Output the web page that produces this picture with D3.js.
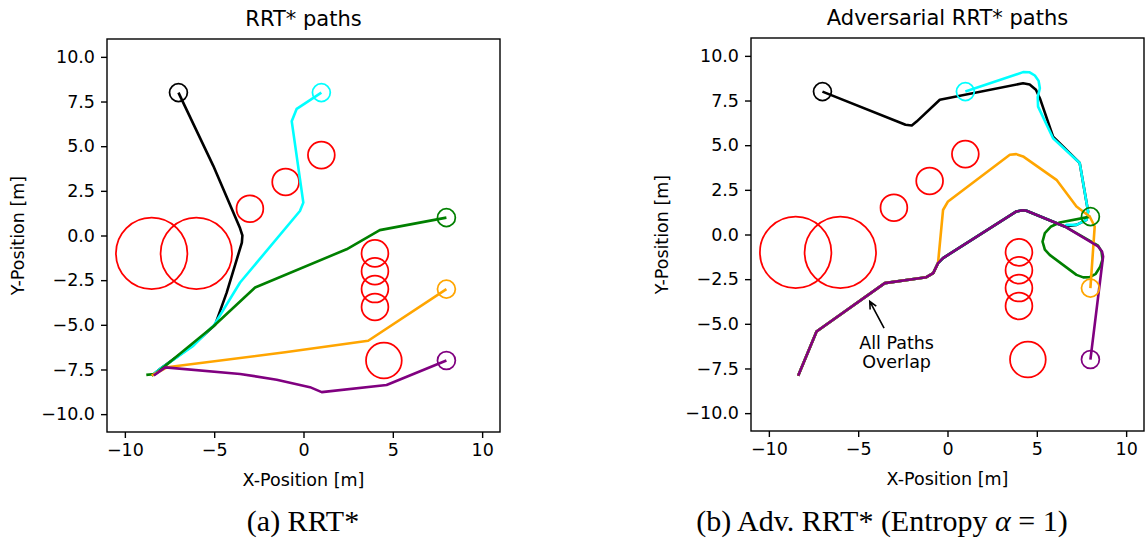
<!DOCTYPE html>
<html>
<head>
<meta charset="utf-8">
<script src="https://cdn.jsdelivr.net/npm/d3@7"></script>
<style>
  body { margin: 0; background: #fff; }
  text { font-family: "DejaVu Sans", sans-serif; }
  text.caption { font-family: "Liberation Serif", "Times New Roman", serif; }
</style>
</head>
<body>
<svg id="chart" width="1147" height="539"></svg>
<script>
"use strict";

// obstacles: [x, y, radius]
var obstacles = [
  [-8.5, -1, 2], [-6, -1, 2],
  [-3, 1.5, 0.75], [-1, 3, 0.75], [1, 4.5, 0.75],
  [4, -1, 0.75], [4, -2, 0.75], [4, -3, 0.75], [4, -4, 0.75],
  [4.5, -7, 1]
];
var goals = [[-7, 8], [1, 8], [8, 1], [8, -3], [8, -7]];
var pathNames = ["black", "cyan", "green", "orange", "purple"];
var xTicks = [-10, -5, 0, 5, 10];
var yTicks = [-10, -7.5, -5, -2.5, 0, 2.5, 5, 7.5, 10];

// RRT* paths
var rrtBlack = [[-8.5, -7.85], [-8.0, -7.45], [-6.2, -6.15], [-4.95, -5.0], [-4.3, -3.2],
  [-3.45, -0.4], [-3.42, 0.0], [-3.55, 0.4], [-5.05, 3.9], [-7, 8]];
var rrtCyan = [[-8.5, -7.85], [-8.0, -7.45], [-6.2, -6.2], [-5.0, -5.0], [-3.55, -2.63],
  [-0.2, 1.37], [-0.01, 1.84], [-0.66, 6.4], [-0.38, 7.09], [1, 8]];
var rrtGreen = [[-8.8, -7.8], [-8.3, -7.75], [-5.04, -5.08], [-2.71, -2.91],
  [2.41, -0.77], [4.27, 0.3], [8, 1]];
var rrtOrange = [[-8.5, -7.85], [-7.64, -7.38], [-1.03, -6.54], [3.62, -5.89], [8, -3]];
var rrtPurple = [[-8.38, -7.84], [-7.74, -7.38], [-3.55, -7.75], [-1.5, -8.07],
  [0.36, -8.49], [1.02, -8.77], [4.65, -8.37], [8, -7]];

// Adversarial RRT* paths (all share the same trunk)
var advTrunk = [[-8.36, -7.91], [-7.33, -5.43], [-3.51, -2.72], [-1.18, -2.39],
  [-0.8, -2.16], [-0.53, -1.6], [-0.25, -1.32], [3.86, 1.29], [4.2, 1.36], [4.42, 1.33], [6.56, 0.45]];
var advBlackTail = [[7.22, 0.54], [7.78, 0.82], [7.87, 1.29], [7.4, 4.0], [5.91, 5.48],
  [5.17, 7.63], [4.95, 8.1], [4.6, 8.4], [4.23, 8.47], [-0.43, 7.54], [-1.73, 6.32], [-2.0, 6.1],
  [-2.35, 6.14], [-7, 8]];
var advCyanTail = [[6.66, 0.54], [7.22, 0.54], [7.78, 0.82], [7.87, 1.29], [7.4, 4.0],
  [5.91, 5.39], [5.07, 7.16], [5.05, 7.7], [5.17, 8.19], [5.1, 8.6], [4.89, 8.9], [4.6, 9.08],
  [4.23, 9.09], [1, 8]];
var advGreenTail = [[8.43, -0.62], [8.62, -0.95], [8.68, -1.4], [8.55, -1.8], [8.3, -2.2],
  [7.96, -2.39], [7.6, -2.4], [7.22, -2.26], [5.72, -1.14], [5.45, -0.85], [5.32, -0.4],
  [5.45, 0.08], [5.8, 0.45], [6.28, 0.67], [8, 1]];
var advOrangeTail = [[-0.25, 1.37], [0.03, 1.85], [3.49, 4.46], [3.85, 4.5], [4.23, 4.37],
  [6.1, 3.06], [7.22, 1.57], [7.96, 1.01], [8.24, 0.45], [8, -3]];
var advPurpleTail = [[8.43, -0.67], [8.65, -0.95], [8.71, -1.23], [8, -7]];

var colors = { black: "#000000", cyan: "#00ffff", green: "#008000", orange: "#ffa500", purple: "#800080" };

var svg = d3.select("#chart");
var size = 393;

function panel(left, top, title, paths) {
  var x = d3.scaleLinear().domain([-11, 11]).range([0, size]);
  var y = d3.scaleLinear().domain([-11, 11]).range([size, 0]);
  var g = svg.append("g").attr("transform", "translate(" + left + "," + top + ")");

  var line = d3.line()
    .x(function(d) { return x(d[0]); })
    .y(function(d) { return y(d[1]); });

  g.selectAll("circle.obs")
    .data(obstacles)
    .enter()
    .append("circle")
    .attr("class", "obs")
    .attr("cx", function(d) { return x(d[0]); })
    .attr("cy", function(d) { return y(d[1]); })
    .attr("r", function(d) { return x(d[2]) - x(0); })
    .attr("fill", "none")
    .attr("stroke", "#ff0000")
    .attr("stroke-width", 1.75);

  pathNames.forEach(function(name, i) {
    g.append("path")
      .datum(paths[i])
      .attr("d", line)
      .attr("fill", "none")
      .attr("stroke", colors[name])
      .attr("stroke-width", 2.6)
      .attr("stroke-linejoin", "round");
  });

  g.selectAll("circle.goal")
    .data(goals)
    .enter()
    .append("circle")
    .attr("class", "goal")
    .attr("cx", function(d) { return x(d[0]); })
    .attr("cy", function(d) { return y(d[1]); })
    .attr("r", x(0.5) - x(0))
    .attr("fill", "none")
    .attr("stroke", function(d, i) { return colors[pathNames[i]]; })
    .attr("stroke-width", 1.75);

  g.append("g")
    .attr("transform", "translate(0," + size + ")")
    .call(d3.axisBottom(x).tickValues(xTicks).tickSize(6).tickPadding(6).tickSizeOuter(0));
  g.append("g")
    .call(d3.axisLeft(y).tickValues(yTicks).tickFormat(d3.format(".1f")).tickSize(6).tickPadding(6).tickSizeOuter(0));
  g.selectAll(".tick text").attr("font-size", "17.5px").attr("font-family", "DejaVu Sans").attr("fill", "#000");
  g.selectAll(".tick line").attr("stroke-width", 1.4);
  g.selectAll(".domain").remove();

  g.append("rect")
    .attr("width", size)
    .attr("height", size)
    .attr("fill", "none")
    .attr("stroke", "#000")
    .attr("stroke-width", 1.4);

  g.append("text")
    .attr("x", size / 2)
    .attr("y", -13)
    .attr("text-anchor", "middle")
    .attr("font-size", "21px")
    .text(title);

  g.append("text")
    .attr("x", size / 2)
    .attr("y", size + 54)
    .attr("text-anchor", "middle")
    .attr("font-size", "17.5px")
    .text("X-Position [m]");

  g.append("text")
    .attr("transform", "translate(-83," + (size / 2) + ") rotate(-90)")
    .attr("text-anchor", "middle")
    .attr("font-size", "17.5px")
    .text("Y-Position [m]");

  return { g: g, x: x, y: y };
}

panel(107, 39, "RRT* paths", [rrtBlack, rrtCyan, rrtGreen, rrtOrange, rrtPurple]);

var right = panel(751, 38, "Adversarial RRT* paths", [
  advTrunk.concat(advBlackTail),
  advTrunk.concat(advCyanTail),
  advTrunk.concat(advGreenTail),
  advTrunk.slice(0, 6).concat(advOrangeTail),
  advTrunk.concat(advPurpleTail)
]);

// annotation
var arrowTail = [-3.55, -5.24];
var arrowHead = [-4.35, -3.75];
var rx = right.x, ry = right.y;
var tx = rx(arrowTail[0]), ty = ry(arrowTail[1]);
var hx = rx(arrowHead[0]), hy = ry(arrowHead[1]);
var ang = Math.atan2(hy - ty, hx - tx);
var hl = 8;
right.g.append("path")
  .attr("d", "M" + tx + "," + ty + "L" + hx + "," + hy +
    "M" + (hx - hl * Math.cos(ang - 0.45)) + "," + (hy - hl * Math.sin(ang - 0.45)) +
    "L" + hx + "," + hy +
    "L" + (hx - hl * Math.cos(ang + 0.45)) + "," + (hy - hl * Math.sin(ang + 0.45)))
  .attr("fill", "none")
  .attr("stroke", "#000")
  .attr("stroke-width", 1.6);

var note = right.g.append("text")
  .attr("text-anchor", "middle")
  .attr("font-size", "17.5px");
note.append("tspan").attr("x", rx(-2.85)).attr("y", ry(-6.08) + 6).text("All Paths");
note.append("tspan").attr("x", rx(-2.85)).attr("y", ry(-7.16) + 6).text("Overlap");

// captions
svg.append("text")
  .attr("class", "caption")
  .attr("x", 303)
  .attr("y", 531)
  .attr("text-anchor", "middle")
  .attr("font-size", "30px")
  .text("(a) RRT*");

var cap = svg.append("text")
  .attr("class", "caption")
  .attr("x", 882)
  .attr("y", 531)
  .attr("text-anchor", "middle")
  .attr("font-size", "30px");
cap.append("tspan").text("(b) Adv. RRT* (Entropy ");
cap.append("tspan").attr("font-style", "italic").text("α");
cap.append("tspan").text(" = 1)");
</script>
</body>
</html>
